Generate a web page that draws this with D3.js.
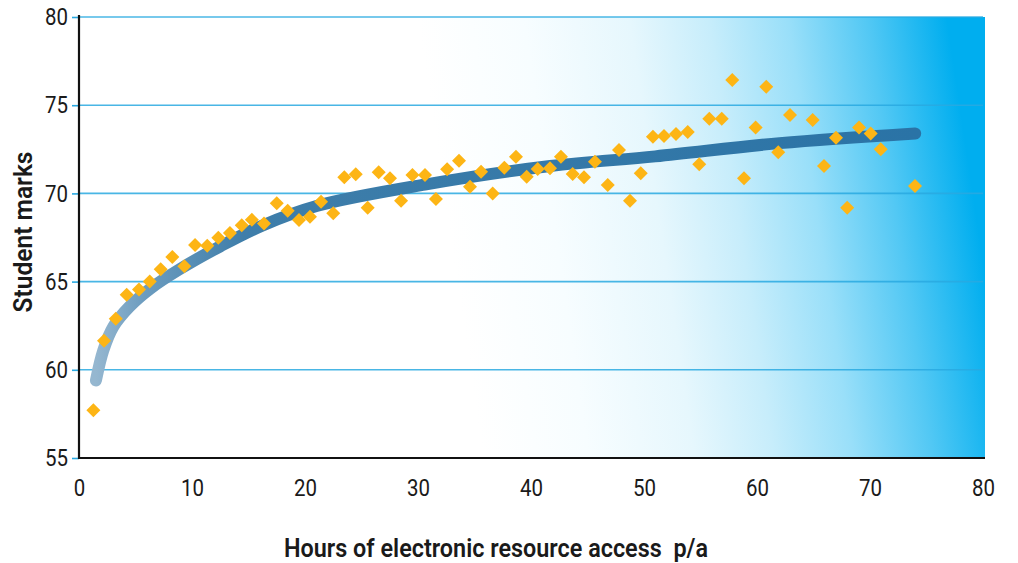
<!DOCTYPE html>
<html>
<head>
<meta charset="utf-8">
<script src="https://cdn.jsdelivr.net/npm/d3@7"></script>
<style>
  html, body { margin: 0; padding: 0; background: #ffffff; }
  svg { display: block; }
  text { font-family: "Roboto", "DejaVu Sans Condensed", sans-serif; fill: #1a1a1a; }
</style>
</head>
<body>
<svg id="chart" width="1018" height="563"></svg>
<script>
// ---- data ----
const hours = [1.27, 2.21, 3.25, 4.22, 5.31, 6.26, 7.23, 8.26, 9.32, 10.27,
  11.35, 12.33, 13.36, 14.4, 15.3, 16.37, 17.5, 18.47, 19.47, 20.44,
  21.42, 22.5, 23.48, 24.49, 25.55, 26.52, 27.52, 28.5, 29.51, 30.62,
  31.59, 32.58, 33.63, 34.6, 35.58, 36.61, 37.64, 38.67, 39.62, 40.59,
  41.68, 42.65, 43.69, 44.69, 45.66, 46.79, 47.79, 48.76, 49.71, 50.79,
  51.77, 52.83, 53.87, 54.89, 55.78, 56.88, 57.81, 58.85, 59.88, 60.82,
  61.88, 62.92, 64.93, 65.93, 66.99, 67.98, 69.03, 70.06, 70.95, 73.98];
const marks = [57.7, 61.65, 62.9, 64.25, 64.55, 65.0, 65.7, 66.4, 65.87, 67.07,
  67.03, 67.49, 67.76, 68.19, 68.5, 68.3, 69.44, 69.02, 68.49, 68.68,
  69.53, 68.87, 70.91, 71.08, 69.19, 71.2, 70.86, 69.59, 71.04, 71.04,
  69.68, 71.37, 71.85, 70.38, 71.23, 70.0, 71.46, 72.08, 70.95, 71.38,
  71.42, 72.08, 71.1, 70.91, 71.8, 70.48, 72.46, 69.59, 71.14, 73.21,
  73.25, 73.37, 73.48, 71.65, 74.23, 74.23, 76.43, 70.86, 73.73, 76.05,
  72.33, 74.44, 74.16, 71.55, 73.16, 69.19, 73.73, 73.4, 72.5, 70.42];
// trend line (logarithmic fit) read at several points along the curve
const trendHours = [1.5, 2.15, 3.04, 4.5, 6.3, 8.9, 12.5, 16.3, 21.1, 30.6, 41.7, 51, 62, 74];
const trendMarks = [59.4, 61.1, 62.45, 63.6, 64.6, 65.7, 67.0, 68.2, 69.3, 70.5, 71.55, 72.1, 72.85, 73.4];
const xTicks = [0, 10, 20, 30, 40, 50, 60, 70, 80];
const yTicks = [55, 60, 65, 70, 75, 80];
const xTitle = "Hours of electronic resource access  p/a";
const yTitle = "Student marks";

// ---- layout ----
const W = 1018, H = 563;
const margin = { left: 79, top: 17, right: 35, bottom: 105 };
const iw = W - margin.left - margin.right;
const ih = H - margin.top - margin.bottom;

const svg = d3.select("#chart");
const defs = svg.append("defs");

const x = d3.scaleLinear().domain([0, 80]).range([0, iw]);
const y = d3.scaleLinear().domain([55, 80]).range([ih, 0]);

const g = svg.append("g").attr("transform", `translate(${margin.left},${margin.top})`);

// background gradient (white -> cyan blue), slightly tilted
const blue = "#00AEEF";
const interp = d3.interpolateRgb("#ffffff", blue);
const bgStops = [[0, 0], [0.2, 0.03], [0.4, 0.1], [0.55, 0.22], [0.7, 0.4], [0.85, 0.68], [1, 1]];
const bg = defs.append("linearGradient").attr("id", "bgGrad")
  .attr("gradientUnits", "userSpaceOnUse")
  .attr("x1", 450 - margin.left).attr("y1", 237 - margin.top)
  .attr("x2", 968 - margin.left).attr("y2", 160 - margin.top);
bg.selectAll("stop").data(bgStops).join("stop")
  .attr("offset", d => d[0]).attr("stop-color", d => interp(d[1]));

g.append("rect").attr("x", 0).attr("y", 0).attr("width", iw + 2).attr("height", ih)
  .attr("fill", "url(#bgGrad)");

// gridlines
g.append("g").selectAll("line").data(yTicks.filter(v => v > 55)).join("line")
  .attr("x1", 0).attr("x2", iw)
  .attr("y1", d => y(d)).attr("y2", d => y(d))
  .attr("stroke", "#29A9E1").attr("stroke-opacity", 0.85).attr("stroke-width", 1.6);

// trend line with fading start
const lg = defs.append("linearGradient").attr("id", "lineGrad")
  .attr("gradientUnits", "userSpaceOnUse")
  .attr("x1", x(trendHours[0])).attr("y1", 0)
  .attr("x2", x(trendHours[trendHours.length - 1])).attr("y2", 0);
[[0, "#95B7D0"], [0.06, "#6C9CBF"], [0.18, "#3F7EAA"], [1, "#2A73A6"]].forEach(s =>
  lg.append("stop").attr("offset", s[0]).attr("stop-color", s[1]));

const trend = trendHours.map((h, i) => [h, trendMarks[i]]);
g.append("path").datum(trend)
  .attr("d", d3.line().x(d => x(d[0])).y(d => y(d[1])).curve(d3.curveCatmullRom.alpha(0.5)))
  .attr("fill", "none").attr("stroke", "url(#lineGrad)")
  .attr("stroke-width", 12).attr("stroke-linecap", "round").attr("stroke-linejoin", "round");

// scatter points (diamonds)
const pts = hours.map((h, i) => [h, marks[i]]);
const diamond = d3.symbol().type(d3.symbolSquare).size(98);
g.append("g").selectAll("path").data(pts).join("path")
  .attr("d", diamond)
  .attr("transform", d => `translate(${x(d[0])},${y(d[1])}) rotate(45)`)
  .attr("fill", "#FDB515");

// condensed look for numbers: fixed width per digit
const fitDigits = sel => sel
  .attr("font-size", 24).attr("fill", "#1a1a1a")
  .style("font-family", 'Roboto, "DejaVu Sans Condensed", sans-serif')
  .attr("textLength", function () { return this.textContent.length * 11.5; })
  .attr("lengthAdjust", "spacingAndGlyphs");

// y axis: labels + blue ticks
const yAxis = g.append("g").call(d3.axisLeft(y).tickValues(yTicks).tickSize(7).tickPadding(4));
yAxis.select(".domain").remove();
yAxis.selectAll(".tick line").attr("stroke", "#29A9E1").attr("stroke-width", 1.6);
yAxis.selectAll(".tick text").call(fitDigits);

// x axis labels
const xAxis = g.append("g").attr("transform", `translate(0,${ih})`)
  .call(d3.axisBottom(x).tickValues(xTicks).tickSize(0).tickPadding(21));
xAxis.select(".domain").remove();
xAxis.selectAll(".tick text").call(fitDigits);

// axis lines (black)
g.append("line").attr("x1", 0).attr("x2", 0).attr("y1", -2).attr("y2", ih + 1)
  .attr("stroke", "#111").attr("stroke-width", 2.2);
g.append("line").attr("x1", -1).attr("x2", iw + 2).attr("y1", ih).attr("y2", ih)
  .attr("stroke", "#111").attr("stroke-width", 2.2);

// titles
svg.append("text").attr("x", 496).attr("y", 557)
  .attr("text-anchor", "middle").attr("font-size", 26).attr("font-weight", 600)
  .attr("textLength", 424).attr("lengthAdjust", "spacingAndGlyphs")
  .style("white-space", "pre").text(xTitle);
svg.append("text").attr("transform", "translate(32,232) rotate(-90)")
  .attr("text-anchor", "middle").attr("font-size", 26).attr("font-weight", 600)
  .attr("textLength", 161).attr("lengthAdjust", "spacingAndGlyphs")
  .text(yTitle);
</script>
</body>
</html>
